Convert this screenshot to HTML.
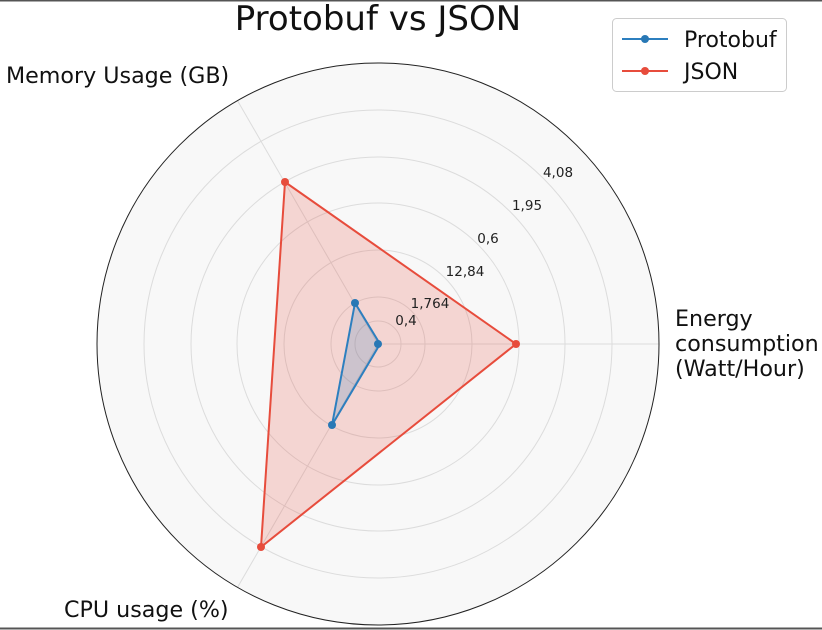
<!DOCTYPE html>
<html><head><meta charset="utf-8"><style>
body{margin:0;background:#fff;}
svg{display:block;font-family:"DejaVu Sans","Liberation Sans",sans-serif;}
</style></head><body>
<svg width="822" height="630" viewBox="0 0 822 630">
<rect x="0" y="0" width="822" height="630" fill="#fff"/>
<line x1="0" y1="0.5" x2="822" y2="0.5" stroke="#555" stroke-width="2"/>
<line x1="0" y1="628.5" x2="822" y2="628.5" stroke="#555" stroke-width="2"/>
<circle cx="378" cy="344" r="281" fill="#f8f8f8"/>
<g fill="none" stroke="#dcdcdc" stroke-width="1">
<circle cx="378" cy="344" r="23"/><circle cx="378" cy="344" r="47"/><circle cx="378" cy="344" r="94"/>
<circle cx="378" cy="344" r="141"/><circle cx="378" cy="344" r="187"/><circle cx="378" cy="344" r="234"/>
<line x1="378" y1="344" x2="659" y2="344"/>
<line x1="378" y1="344" x2="237.5" y2="100.6"/>
<line x1="378" y1="344" x2="237.5" y2="587.4"/>
</g>
<polygon points="516,344 285,182 261,547" fill="#e74c3c" fill-opacity="0.2" stroke="#e74c3c" stroke-width="2"/>
<polygon points="380,344 355,303 332,425" fill="#2c7fb8" fill-opacity="0.2" stroke="#2c7fbf" stroke-width="2"/>
<g fill="#e74c3c"><circle cx="516" cy="344" r="4"/><circle cx="285" cy="182" r="4"/><circle cx="261" cy="547" r="4"/></g>
<g fill="#2878b5"><circle cx="378" cy="344" r="4"/><circle cx="355" cy="303" r="4"/><circle cx="332" cy="425" r="4"/></g>
<circle cx="378" cy="344" r="281" fill="none" stroke="#222" stroke-width="1"/>
<g font-size="13.5" fill="#222" text-anchor="middle">
<text x="406" y="325">0,4</text>
<text x="430" y="308">1,764</text>
<text x="465" y="276">12,84</text>
<text x="488" y="243">0,6</text>
<text x="527" y="210">1,95</text>
<text x="558" y="177">4,08</text>
</g>
<g font-size="22.2" fill="#111">
<text x="6" y="83">Memory Usage (GB)</text>
<text x="675" y="326">Energy</text>
<text x="675" y="351">consumption</text>
<text x="675" y="376">(Watt/Hour)</text>
<text x="64" y="617">CPU usage (%)</text>
</g>
<text x="378" y="30" font-size="34" text-anchor="middle" fill="#111">Protobuf vs JSON</text>
<rect x="612.5" y="18.5" width="174" height="73" rx="4" fill="#fff" stroke="#ccc"/>
<line x1="622" y1="39" x2="668" y2="39" stroke="#2c7fbf" stroke-width="2"/><circle cx="645" cy="39" r="4" fill="#2878b5"/>
<line x1="622" y1="71" x2="668" y2="71" stroke="#e74c3c" stroke-width="2"/><circle cx="645" cy="71" r="4" fill="#e74c3c"/>
<text x="684" y="47" font-size="22" fill="#111">Protobuf</text>
<text x="684" y="79" font-size="22" fill="#111">JSON</text>
</svg>
</body></html>
